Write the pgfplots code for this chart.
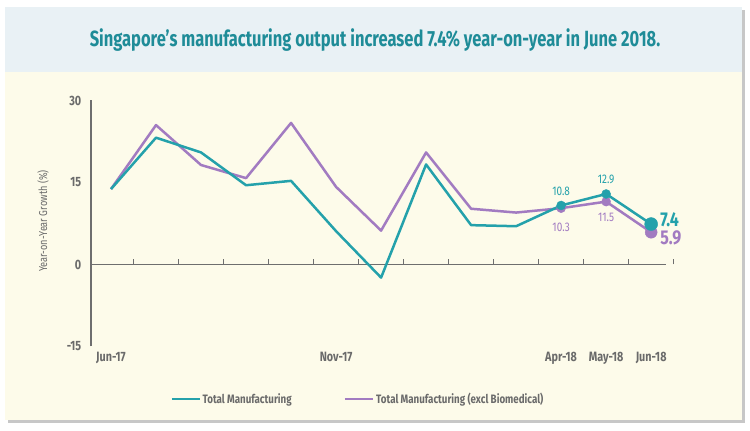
\documentclass[border=0pt]{standalone}
\usepackage{pgfplots}
\pgfplotsset{compat=1.18}
\usepackage{fontspec}
\setmainfont{Fira Sans}[FakeStretch=0.8]
\newfontfamily\titlefont{Fira Sans}[FakeStretch=0.75]
\definecolor{teal1}{HTML}{24A1AB}
\definecolor{purp}{HTML}{A27BC1}
\definecolor{ttl}{HTML}{1F8C98}
\definecolor{axgray}{HTML}{6E6E6E}
\definecolor{txtgray}{HTML}{6A6A6A}
\definecolor{cream}{HTML}{FDFBEA}
\definecolor{band}{HTML}{E9F1F5}
\begin{document}
\begin{tikzpicture}
\path[use as bounding box, fill=white] (0pt,0pt) rectangle (750pt,431pt);
\fill[black!22] (8pt,8pt) rectangle (745pt,421pt);
\fill[cream] (5pt,11pt) rectangle (742pt,424pt);
\fill[band] (5pt,359pt) rectangle (742pt,424pt);
\node[font=\titlefont\fontsize{22}{26}\selectfont\bfseries, text=ttl] at (375pt,391pt) {Singapore’s manufacturing output increased 7.4\% year-on-year in June 2018.};
\begin{axis}[at={(90.75pt,84.5pt)}, anchor=south west, scale only axis,
  width=575.25pt, height=246pt,
  xmin=-0.45, xmax=12.33, ymin=-15, ymax=30, clip=false,
  axis x line*=bottom, axis y line*=left,
  x axis line style={draw=none},
  y axis line style={draw=axgray, line width=1.5pt, -},
  xtick={0,5,10,11,12}, xticklabels={Jun-17,Nov-17,Apr-18,May-18,Jun-18},
  ytick={-15,0,15,30}, major tick length=0pt,
  tick label style={font=\fontsize{13.5}{15}\selectfont\bfseries, text=txtgray},
  xticklabel style={yshift=-2pt},
  yticklabel style={xshift=-6pt},
  /pgf/number format/assume math mode=true,
  ylabel={Year-on-Year Growth (\%)},
  ylabel style={font=\fontsize{11.5}{13}\selectfont, text=txtgray, at={(axis description cs:-0.083,0.51)}, anchor=center},
  legend style={at={(0.465,-0.213)}, anchor=center, draw=none, fill=none,
    font=\fontsize{12.2}{14}\selectfont\bfseries, text=txtgray,
    /tikz/every even column/.style={column sep=50pt}},
  legend columns=2,
  legend image code/.code={\draw[#1] (0pt,0pt) -- (28pt,0pt);},
]
\draw[axgray, line width=1.5pt] (axis cs:-0.45,0) -- (axis cs:12.33,0);
\pgfplotsinvokeforeach{0.5,1.5,2.5,3.5,4.5,5.5,6.5,7.5,8.5,9.5,10.5,11.5,12.5}{
  \draw[axgray, line width=1.2pt] (axis cs:#1,0) -- ++(0pt,5pt);
}
\addlegendimage{teal1, line width=1.5pt}
\addlegendentry{Total Manufacturing}
\addplot[purp, line width=2.5pt, line join=round] coordinates {
(0,13.8)(1,25.5)(2,18.2)(3,15.8)(4,25.9)(5,14.2)(6,6.2)(7,20.5)(8,10.2)(9,9.5)(10,10.3)(11,11.5)(12,5.9)};
\addlegendentry{Total Manufacturing (excl Biomedical)}
\addplot[teal1, line width=2.5pt, line join=round, forget plot] coordinates {
(0,13.8)(1,23.2)(2,20.5)(3,14.5)(4,15.3)(5,6.1)(6,-2.4)(7,18.3)(8,7.2)(9,7.0)(10,10.8)(11,12.9)(12,7.4)};
\addplot[only marks, mark=*, mark size=4.5pt, purp, forget plot] coordinates {(10,10.3)(11,11.5)};
\addplot[only marks, mark=*, mark size=6pt, purp, forget plot] coordinates {(12,5.9)};
\addplot[only marks, mark=*, mark size=4.5pt, teal1, forget plot] coordinates {(10,10.8)(11,12.9)};
\addplot[only marks, mark=*, mark size=6.5pt, teal1, forget plot] coordinates {(12,7.4)};
\node[text=teal1, font=\fontsize{12.5}{14}\selectfont] at (axis cs:10,10.8) [yshift=14pt] {10.8};
\node[text=purp, font=\fontsize{12.5}{14}\selectfont] at (axis cs:10,10.3) [yshift=-19pt] {10.3};
\node[text=teal1, font=\fontsize{12.5}{14}\selectfont] at (axis cs:11,12.9) [yshift=15pt] {12.9};
\node[text=purp, font=\fontsize{12.5}{14}\selectfont] at (axis cs:11,11.5) [yshift=-16pt] {11.5};
\node[text=teal1, font=\fontsize{20}{22}\selectfont\bfseries, anchor=west, inner sep=0pt] at (axis cs:12,7.4) [xshift=9pt, yshift=4pt] {7.4};
\node[text=purp, font=\fontsize{20}{22}\selectfont\bfseries, anchor=west, inner sep=0pt] at (axis cs:12,5.9) [xshift=9pt, yshift=-6pt] {5.9};
\end{axis}
\end{tikzpicture}
\end{document}
